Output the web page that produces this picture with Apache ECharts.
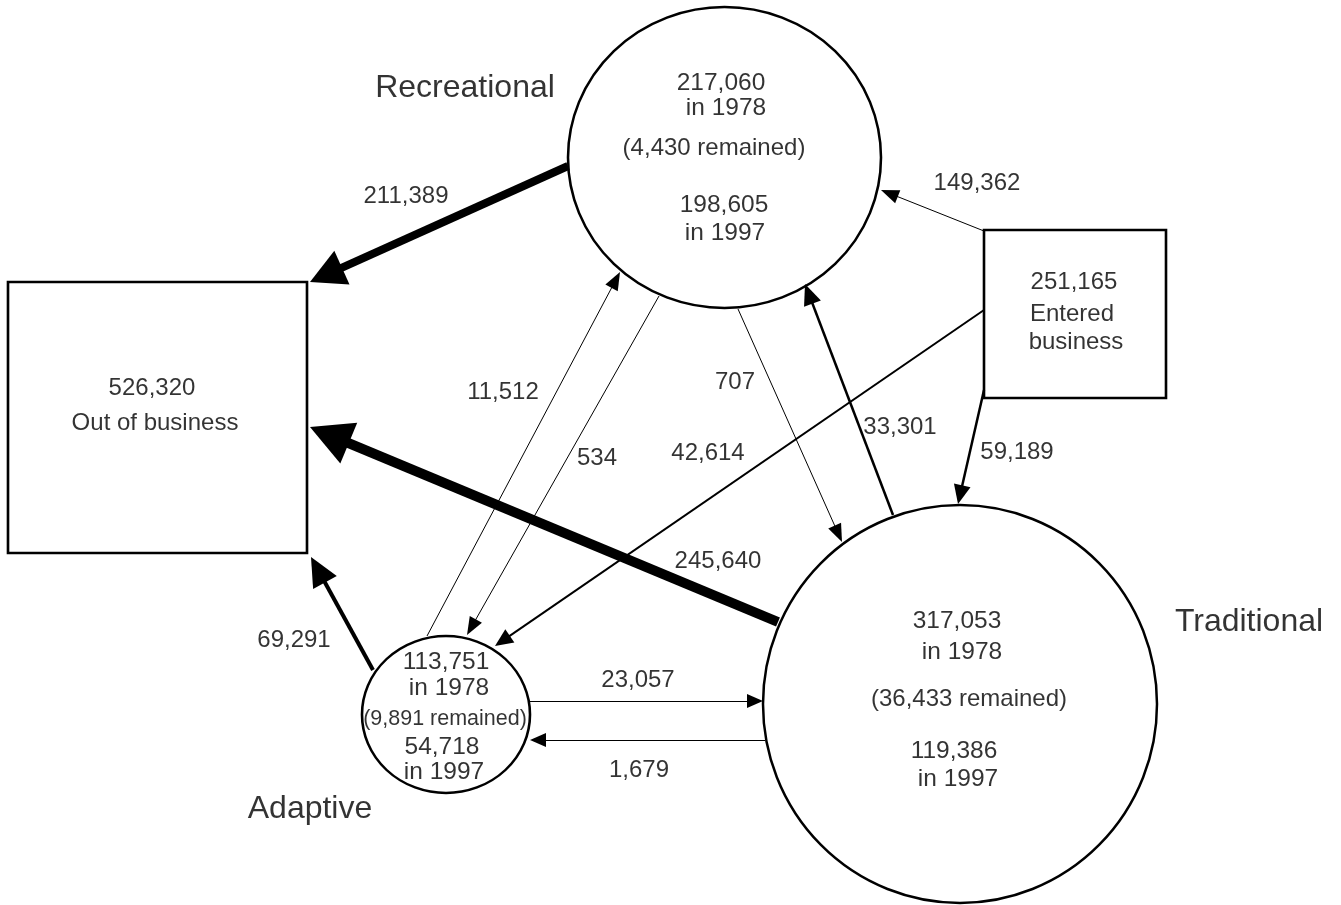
<!DOCTYPE html>
<html>
<head>
<meta charset="utf-8">
<script src="https://cdn.jsdelivr.net/npm/echarts@6/dist/echarts.min.js"></script>
<style>
html,body{margin:0;padding:0;background:#fff;}
#chart{width:1341px;height:905px;}
</style>
</head>
<body>
<div id="chart"></div>
<script>
// ---------------- DATA ----------------
const categories = ['Recreational', 'Traditional', 'Adaptive'];
const firms1978 = [217060, 317053, 113751];
const firmsRemained = [4430, 36433, 9891];
const firms1997 = [198605, 119386, 54718];
const outOfBusinessTotal = 526320;
const enteredBusinessTotal = 251165;

const flowFrom = ['Recreational', 'Traditional', 'Adaptive', 'Entered business', 'Entered business', 'Entered business',
                  'Traditional', 'Recreational', 'Adaptive', 'Recreational', 'Adaptive', 'Traditional'];
const flowTo   = ['Out of business', 'Out of business', 'Out of business', 'Recreational', 'Traditional', 'Adaptive',
                  'Recreational', 'Traditional', 'Recreational', 'Adaptive', 'Traditional', 'Adaptive'];
const flowValues = [211389, 245640, 69291, 149362, 59189, 42614, 33301, 707, 11512, 534, 23057, 1679];

// ---------------- LAYOUT (positions / sizes / styles) ----------------
const ELLIPSE = 'path://M0,50 A50,50 0 1,0 100,50 A50,50 0 1,0 0,50 Z';
const nodeLayout = {
  'Recreational':     { x: 724.5, y: 157.5, w: 313, h: 301, symbol: ELLIPSE },
  'Traditional':      { x: 960,   y: 704,   w: 394, h: 398, symbol: ELLIPSE },
  'Adaptive':         { x: 446,   y: 714.5, w: 168, h: 157, symbol: ELLIPSE },
  'Out of business':  { x: 157.5, y: 417.5, w: 299, h: 271, symbol: 'rect' },
  'Entered business': { x: 1075,  y: 314,   w: 182, h: 168, symbol: 'rect' }
};
// node inner text positions: [1978 value, "in 1978", remained, 1997 value, "in 1997"]
const innerTextPos = {
  'Recreational': [[721, 83], [726, 108], [714, 148], [724, 205], [725, 233]],
  'Traditional':  [[957, 621], [962, 652], [969, 699], [954, 751], [958, 779]],
  'Adaptive':     [[446, 662], [449, 688], [445, 719], [442, 747], [444, 772]]
};
const remainedFont = { 'Recreational': 24, 'Traditional': 24, 'Adaptive': 21.5 };
const nameLabelPos = { 'Recreational': [465, 88], 'Traditional': [1249, 622], 'Adaptive': [310, 809] };
const boxTextPos = {
  'Out of business': [[152, 388], [155, 423]],
  'Entered business': [[1074, 282], [1072, 314], [1076, 342]]
};
// per flow: start point, arrow tip, line width, arrowhead [width, length], label centre
const flowLayout = [
  { from: [568, 166], tip: [310, 282], width: 8,   head: [37, 35], label: [406, 196] },
  { from: [778, 622], tip: [310, 427], width: 10,  head: [44, 42], label: [718, 561] },
  { from: [373, 670], tip: [311, 557], width: 4,   head: [27, 29], label: [294, 640] },
  { from: [984, 231], tip: [881, 190], width: 1,   head: [14, 18], label: [977, 183] },
  { from: [984, 390], tip: [958, 504], width: 2.5, head: [17, 19], label: [1017, 452] },
  { from: [984, 310], tip: [495, 646], width: 2,   head: [16, 18], label: [708, 453] },
  { from: [893, 515], tip: [805, 284], width: 2.5, head: [18, 21], label: [900, 427] },
  { from: [738, 309], tip: [842, 542], width: 1,   head: [14, 18], label: [735, 382] },
  { from: [427, 636], tip: [620, 272], width: 1,   head: [14, 18], label: [503, 392] },
  { from: [659, 296], tip: [467, 635], width: 1,   head: [14, 18], label: [597, 458] },
  { from: [530, 701], tip: [763, 701], width: 1,   head: [14, 16], label: [638, 680] },
  { from: [765, 740], tip: [530, 740], width: 1,   head: [14, 16], label: [639, 770] }
];
const FONT = '"Liberation Sans", Arial, Helvetica, sans-serif';

// ---------------- BUILD ----------------
const fmt = n => String(n).replace(/\B(?=(\d{3})+(?!\d))/g, ',');

const nodeNames = Object.keys(nodeLayout);
const nodeData = nodeNames.map(name => {
  const L = nodeLayout[name];
  return { name: name, value: [L.x, L.y], symbol: L.symbol, symbolSize: [L.w, L.h] };
});

const texts = [];
categories.forEach((c, i) => {
  const P = innerTextPos[c];
  texts.push({ t: fmt(firms1978[i]), p: P[0], s: 24.5 });
  texts.push({ t: 'in 1978', p: P[1], s: 24.5 });
  texts.push({ t: '(' + fmt(firmsRemained[i]) + ' remained)', p: P[2], s: remainedFont[c] });
  texts.push({ t: fmt(firms1997[i]), p: P[3], s: 24.5 });
  texts.push({ t: 'in 1997', p: P[4], s: 24.5 });
  texts.push({ t: c, p: nameLabelPos[c], s: 32 });
});
texts.push({ t: fmt(outOfBusinessTotal), p: boxTextPos['Out of business'][0], s: 24 });
texts.push({ t: 'Out of business', p: boxTextPos['Out of business'][1], s: 24 });
texts.push({ t: fmt(enteredBusinessTotal), p: boxTextPos['Entered business'][0], s: 24 });
texts.push({ t: 'Entered', p: boxTextPos['Entered business'][1], s: 24 });
texts.push({ t: 'business', p: boxTextPos['Entered business'][2], s: 24 });

const lineData = flowValues.map((v, i) => {
  const L = flowLayout[i];
  const dx = L.tip[0] - L.from[0], dy = L.tip[1] - L.from[1];
  const len = Math.sqrt(dx * dx + dy * dy);
  const ux = dx / len, uy = dy / len;
  const end = [L.tip[0] - ux * L.head[1] / 2, L.tip[1] - uy * L.head[1] / 2];
  texts.push({ t: fmt(v), p: L.label, s: 24 });
  return {
    name: flowFrom[i] + ' → ' + flowTo[i],
    value: v,
    coords: [L.from, end],
    symbol: ['none', 'triangle'],
    symbolSize: [[1, 1], L.head],
    lineStyle: { width: L.width, color: '#000', opacity: 1 }
  };
});

const textData = texts.map(o => ({
  value: o.p, text: o.t,
  label: { fontSize: o.s }
}));

const chart = echarts.init(document.getElementById('chart'), null, { renderer: 'canvas' });
chart.setOption({
  backgroundColor: '#ffffff',
  animation: false,
  grid: { left: 0, right: 0, top: 0, bottom: 0, containLabel: false },
  xAxis: { type: 'value', min: 0, max: 1341, show: false },
  yAxis: { type: 'value', min: 0, max: 905, inverse: true, show: false },
  series: [
    {
      type: 'scatter', name: 'nodes', z: 1,
      data: nodeData,
      itemStyle: { color: '#ffffff', borderColor: '#000000', borderWidth: 2.5, opacity: 1 },
      label: { show: false },
      silent: true
    },
    {
      type: 'lines', name: 'flows', coordinateSystem: 'cartesian2d', z: 3,
      data: lineData,
      symbol: ['none', 'triangle'],
      lineStyle: { color: '#000', opacity: 1, curveness: 0 },
      silent: true
    },
    {
      type: 'scatter', name: 'texts', z: 5,
      data: textData,
      symbolSize: 1,
      itemStyle: { color: 'rgba(0,0,0,0)' },
      label: {
        show: true, position: 'inside', color: '#000',
        fontFamily: FONT, align: 'center', verticalAlign: 'middle',
        formatter: p => p.data.text
      },
      silent: true
    }
  ]
});
</script>
</body>
</html>
